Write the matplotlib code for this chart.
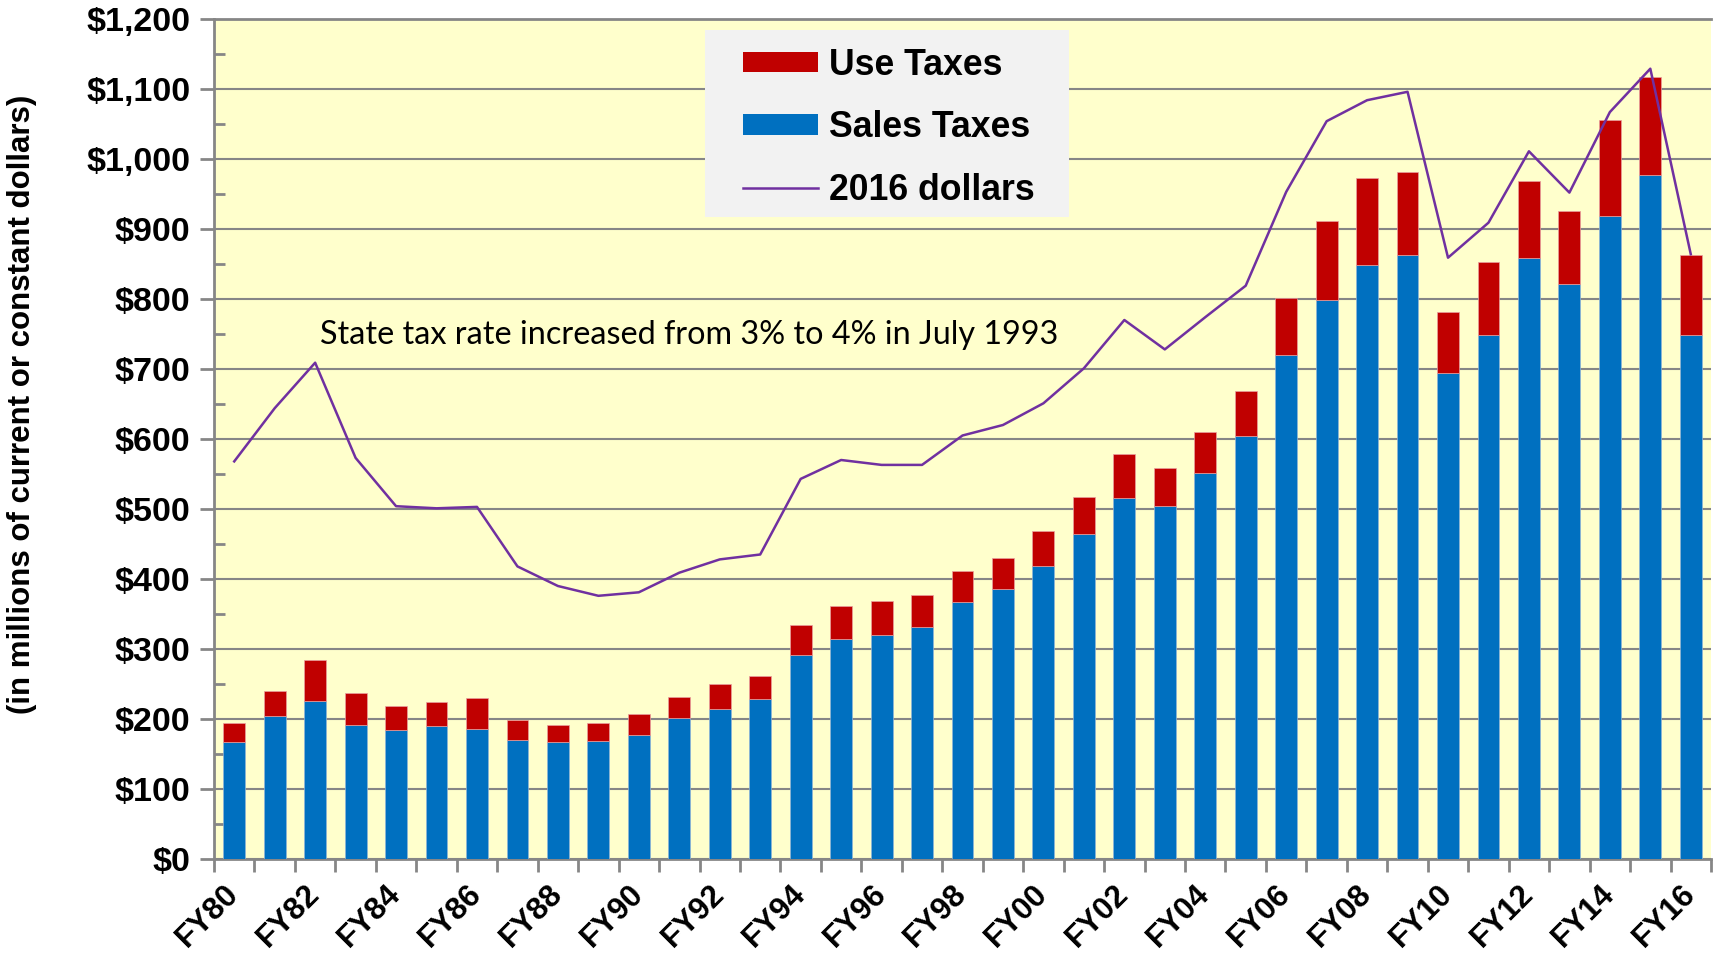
import matplotlib
matplotlib.use("Agg")
import matplotlib.pyplot as plt
from matplotlib.patches import Rectangle, Patch
from matplotlib.lines import Line2D
import numpy as np

years = ["FY80", "FY81", "FY82", "FY83", "FY84", "FY85", "FY86", "FY87", "FY88", "FY89",
         "FY90", "FY91", "FY92", "FY93", "FY94", "FY95", "FY96", "FY97", "FY98", "FY99",
         "FY00", "FY01", "FY02", "FY03", "FY04", "FY05", "FY06", "FY07", "FY08", "FY09",
         "FY10", "FY11", "FY12", "FY13", "FY14", "FY15", "FY16"]

sales_taxes = [167, 205, 226, 191, 184, 190, 186, 170, 167, 168,
               177, 201, 214, 228, 292, 315, 320, 332, 367, 386,
               418, 465, 515, 504, 551, 604, 720, 799, 849, 863,
               694, 748, 858, 821, 918, 977, 749]

total_taxes = [194, 240, 285, 237, 218, 224, 230, 198, 192, 194,
               207, 232, 250, 262, 335, 362, 369, 377, 411, 430,
               468, 517, 578, 558, 610, 668, 801, 912, 973, 981,
               781, 853, 969, 926, 1055, 1117, 863]

use_taxes = [t - s for t, s in zip(total_taxes, sales_taxes)]

dollars_2016 = [568, 644, 709, 573, 504, 501, 503, 418, 390, 376,
                381, 409, 428, 435, 543, 570, 563, 563, 605, 620,
                651, 701, 770, 728, 774, 819, 953, 1054, 1084, 1096,
                859, 909, 1011, 952, 1067, 1129, 864]

y_ticks = list(range(0, 1201, 100))
y_labels = ["$0", "$100", "$200", "$300", "$400", "$500", "$600", "$700",
            "$800", "$900", "$1,000", "$1,100", "$1,200"]

BLUE = "#0070C0"
RED = "#C00000"
PURPLE = "#7030A0"
GRID = "#868686"
BG = "#FFFFCC"

fig = plt.figure(figsize=(17.13, 9.59), dpi=100)
ax = fig.add_axes([214 / 1713, 1 - 859 / 959, (1711 - 214) / 1713, (859 - 19) / 959])
ax.set_facecolor(BG)

x = np.arange(len(years))
ax.bar(x, sales_taxes, width=0.54, color=BLUE, edgecolor="#8FB4D8", linewidth=0.5, zorder=3)
ax.bar(x, use_taxes, bottom=sales_taxes, width=0.54, color=RED, edgecolor="#E8A0A0",
       linewidth=0.5, zorder=3)
ax.plot(x, dollars_2016, color=PURPLE, linewidth=1.8, zorder=4)

ax.set_xlim(-0.5, len(years) - 0.5)
ax.set_ylim(0, 1200)

# y axis
ax.set_yticks(y_ticks)
ax.set_yticklabels(y_labels, fontsize=24.5, fontweight="bold", family="Liberation Sans")
ax.set_yticks(np.arange(50, 1200, 100), minor=True)
ax.tick_params(axis="y", which="major", direction="out", length=10, width=2, color=GRID, pad=7)
ax.tick_params(axis="y", which="minor", direction="in", length=8, width=2, color=GRID)
ax.yaxis.grid(True, which="major", color=GRID, linewidth=1.5, zorder=1)
ax.set_axisbelow(True)

# x axis: labels at centers (every other), ticks at boundaries
ax.set_xticks(x)
ax.set_xticklabels([y if i % 2 == 0 else "" for i, y in enumerate(years)],
                   fontsize=22.5, fontweight="bold", family="Liberation Sans",
                   rotation=45, ha="right", va="center", rotation_mode="anchor")
ax.tick_params(axis="x", which="major", length=0, pad=22)
ax.set_xticks(np.arange(-0.5, len(years), 1.0), minor=True)
ax.tick_params(axis="x", which="minor", direction="out", length=9, width=2, color=GRID)

for s in ["left", "bottom", "top"]:
    ax.spines[s].set_color(GRID)
    ax.spines[s].set_linewidth(2)
ax.spines["right"].set_visible(False)

# y label
fig.text(22 / 1713, 1 - 404 / 959, "(in millions of current or constant dollars)",
         rotation=90, ha="center", va="center", fontsize=22.5, fontweight="bold",
         family="Liberation Sans")

# annotation
ax.text(2.12, 749, "State tax rate increased from 3% to 4% in July 1993",
        fontsize=23.3, family="Lato", ha="left", va="center", zorder=5)

# legend
ax.add_patch(Rectangle((0.328, 0.764), 0.571 - 0.328, 0.987 - 0.764, transform=ax.transAxes,
                       facecolor="#F2F2F2", edgecolor="none", zorder=6))
handles = [Patch(facecolor=RED, edgecolor="none"),
           Patch(facecolor=BLUE, edgecolor="none"),
           Line2D([0], [0], color=PURPLE, linewidth=1.8)]
leg = ax.legend(handles, ["Use Taxes", "Sales Taxes", "2016 dollars"],
                loc="upper left", bbox_to_anchor=(0.3415, 0.987), frameon=False,
                prop={"family": "Liberation Sans", "weight": "bold", "size": 25.7},
                handlelength=2.1, handleheight=0.5, handletextpad=0.3, labelspacing=0.77,
                borderpad=0.0)
leg.set_zorder(7)

fig.savefig("out.png", dpi=100)
